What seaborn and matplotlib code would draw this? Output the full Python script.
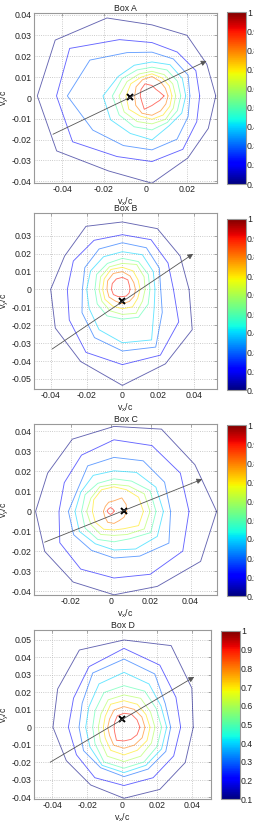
import matplotlib
matplotlib.use("Agg")
import matplotlib.pyplot as plt
import numpy as np
import pandas as pd
import seaborn as sns
from matplotlib.cm import ScalarMappable
from matplotlib.colors import Normalize


LEVELS = [0.1, 0.2, 0.3, 0.4, 0.5, 0.6, 0.7, 0.8, 0.9]
ANGLES_DEG = [0, 30, 60, 90, 120, 150, 180, 210, 240, 270, 300, 330]
CBAR_TICKS = [0.1, 0.2, 0.3, 0.4, 0.5, 0.6, 0.7, 0.8, 0.9, 1.0]
JET = matplotlib.colormaps["jet"]
FS = 6.3
FIG_W, FIG_H = 254, 822

# Box A
A_CENTER = (0.0030, 0.0010)
A_PEAK = (0.0030, 0.0010)
A_RADII = [
    [0.0306, 0.0304, 0.0336, 0.0341, 0.0432, 0.0536, 0.0550, 0.0528, 0.0416, 0.0419, 0.0344, 0.0312],
    [0.0229, 0.0243, 0.0243, 0.0256, 0.0312, 0.0456, 0.0458, 0.0440, 0.0336, 0.0315, 0.0296, 0.0248],
    [0.0182, 0.0200, 0.0205, 0.0210, 0.0240, 0.0344, 0.0406, 0.0328, 0.0275, 0.0259, 0.0240, 0.0200],
    [0.0162, 0.0168, 0.0173, 0.0163, 0.0170, 0.0187, 0.0235, 0.0229, 0.0208, 0.0211, 0.0165, 0.0165],
    [0.0138, 0.0141, 0.0144, 0.0138, 0.0144, 0.0166, 0.0190, 0.0182, 0.0171, 0.0163, 0.0147, 0.0141],
    [0.0114, 0.0115, 0.0118, 0.0118, 0.0122, 0.0138, 0.0158, 0.0154, 0.0142, 0.0134, 0.0130, 0.0118],
    [0.0096, 0.0096, 0.0099, 0.0106, 0.0104, 0.0117, 0.0125, 0.0128, 0.0112, 0.0112, 0.0106, 0.0099],
    [0.0077, 0.0074, 0.0080, 0.0093, 0.0090, 0.0088, 0.0083, 0.0090, 0.0096, 0.0093, 0.0083, 0.0077],
    [0.0058, 0.0040, 0.0037, 0.0050, 0.0067, 0.0061, 0.0056, 0.0056, 0.0074, 0.0046, 0.0038, 0.0043],
]
A_MARK = (-0.0077, 0.0003)
A_ARROW = ((-0.0445, -0.0174), (0.0292, 0.0178))
A_XTICKS = [-0.04, -0.02, 0, 0.02]
A_YTICKS = [-0.04, -0.03, -0.02, -0.01, 0, 0.01, 0.02, 0.03, 0.04]
A_XLIM = (-0.0536, 0.0342)
A_YLIM = (-0.0408, 0.0408)

# Box B
B_CENTER = (0.0, 0.0)
B_PEAK = (0.0, 0.0)
B_RADII = [
    [0.0372, 0.0372, 0.0391, 0.0376, 0.0406, 0.0372, 0.0400, 0.0432, 0.0465, 0.0536, 0.0480, 0.0450],
    [0.0285, 0.0294, 0.0320, 0.0305, 0.0316, 0.0316, 0.0307, 0.0342, 0.0406, 0.0420, 0.0424, 0.0363],
    [0.0214, 0.0238, 0.0268, 0.0260, 0.0260, 0.0242, 0.0223, 0.0260, 0.0311, 0.0344, 0.0372, 0.0257],
    [0.0182, 0.0199, 0.0223, 0.0210, 0.0210, 0.0205, 0.0199, 0.0214, 0.0260, 0.0298, 0.0326, 0.0205],
    [0.0154, 0.0167, 0.0179, 0.0173, 0.0167, 0.0166, 0.0153, 0.0162, 0.0171, 0.0166, 0.0180, 0.0166],
    [0.0127, 0.0140, 0.0160, 0.0145, 0.0145, 0.0140, 0.0130, 0.0132, 0.0138, 0.0140, 0.0154, 0.0130],
    [0.0099, 0.0102, 0.0119, 0.0123, 0.0128, 0.0117, 0.0110, 0.0112, 0.0108, 0.0108, 0.0113, 0.0099],
    [0.0073, 0.0074, 0.0086, 0.0099, 0.0102, 0.0095, 0.0086, 0.0086, 0.0076, 0.0080, 0.0078, 0.0076],
    [0.0043, 0.0045, 0.0061, 0.0067, 0.0067, 0.0065, 0.0061, 0.0058, 0.0047, 0.0041, 0.0043, 0.0043],
]
B_MARK = (0.0, -0.0065)
B_ARROW = ((-0.0392, -0.0333), (0.0395, 0.0198))
B_XTICKS = [-0.04, -0.02, 0, 0.02, 0.04]
B_YTICKS = [-0.05, -0.04, -0.03, -0.02, -0.01, 0, 0.01, 0.02, 0.03]
B_XLIM = (-0.0493, 0.0528)
B_YLIM = (-0.0556, 0.0426)

# Box C
C_CENTER = (0.0017, 0.0)
C_PEAK = (0.0, 0.0002)
C_RADII = [
    [0.0513, 0.0467, 0.0475, 0.0425, 0.0417, 0.0383, 0.0392, 0.0400, 0.0408, 0.0417, 0.0433, 0.0500],
    [0.0375, 0.0383, 0.0380, 0.0358, 0.0325, 0.0287, 0.0275, 0.0313, 0.0333, 0.0333, 0.0363, 0.0397],
    [0.0283, 0.0292, 0.0292, 0.0270, 0.0263, 0.0212, 0.0228, 0.0233, 0.0225, 0.0233, 0.0258, 0.0317],
    [0.0247, 0.0242, 0.0225, 0.0203, 0.0208, 0.0192, 0.0195, 0.0200, 0.0187, 0.0193, 0.0217, 0.0250],
    [0.0210, 0.0208, 0.0175, 0.0163, 0.0162, 0.0167, 0.0162, 0.0167, 0.0162, 0.0152, 0.0158, 0.0212],
    [0.0180, 0.0175, 0.0147, 0.0135, 0.0142, 0.0133, 0.0137, 0.0133, 0.0133, 0.0120, 0.0133, 0.0175],
    [0.0147, 0.0142, 0.0125, 0.0123, 0.0125, 0.0117, 0.0108, 0.0108, 0.0103, 0.0093, 0.0100, 0.0142],
    [0.0063, 0.0070, 0.0078, 0.0053, 0.0053, 0.0050, 0.0053, 0.0053, 0.0063, 0.0060, 0.0053, 0.0058],
    [0.0018, 0.0015, 0.0015, 0.0017, 0.0015, 0.0015, 0.0018, 0.0015, 0.0015, 0.0017, 0.0015, 0.0015],
]
C_MARK = (0.0067, 0.0003)
C_ARROW = ((-0.0330, -0.0154), (0.0458, 0.0161))
C_XTICKS = [-0.02, 0, 0.02, 0.04]
C_YTICKS = [-0.04, -0.03, -0.02, -0.01, 0, 0.01, 0.02, 0.03, 0.04]
C_XLIM = (-0.0383, 0.0532)
C_YLIM = (-0.0418, 0.0437)

# Box D
D_CENTER = (0.00095, 0.0)
D_PEAK = (0.00095, 0.0)
D_RADII = [
    [0.0396, 0.0448, 0.0539, 0.0499, 0.0510, 0.0438, 0.0406, 0.0381, 0.0381, 0.0406, 0.0410, 0.0404],
    [0.0324, 0.0343, 0.0410, 0.0451, 0.0400, 0.0333, 0.0318, 0.0314, 0.0333, 0.0333, 0.0333, 0.0328],
    [0.0267, 0.0272, 0.0352, 0.0390, 0.0358, 0.0276, 0.0257, 0.0267, 0.0267, 0.0282, 0.0276, 0.0276],
    [0.0244, 0.0244, 0.0286, 0.0314, 0.0286, 0.0232, 0.0219, 0.0225, 0.0251, 0.0259, 0.0251, 0.0248],
    [0.0215, 0.0213, 0.0238, 0.0238, 0.0229, 0.0191, 0.0179, 0.0191, 0.0229, 0.0234, 0.0229, 0.0219],
    [0.0177, 0.0175, 0.0191, 0.0185, 0.0181, 0.0152, 0.0147, 0.0156, 0.0191, 0.0196, 0.0191, 0.0181],
    [0.0149, 0.0145, 0.0152, 0.0152, 0.0152, 0.0124, 0.0118, 0.0124, 0.0152, 0.0158, 0.0152, 0.0152],
    [0.0120, 0.0118, 0.0118, 0.0118, 0.0114, 0.0095, 0.0093, 0.0095, 0.0118, 0.0120, 0.0118, 0.0120],
    [0.0091, 0.0086, 0.0086, 0.0080, 0.0076, 0.0061, 0.0057, 0.0061, 0.0086, 0.0078, 0.0080, 0.0086],
]
D_MARK = (-0.0004, 0.0046)
D_ARROW = ((-0.0413, -0.0200), (0.0411, 0.0288))
D_XTICKS = [-0.04, -0.02, 0, 0.02, 0.04]
D_YTICKS = [-0.04, -0.03, -0.02, -0.01, 0, 0.01, 0.02, 0.03, 0.04, 0.05]
D_XLIM = (-0.0505, 0.0507)
D_YLIM = (-0.0410, 0.0556)


def fmt(v):
    s = f"{v:g}"
    return "0" if s in ("-0", "0") else s


def px_rect(left, top, right, bottom):
    # pixel box (from top-left) -> figure fraction rect
    return [left / FIG_W, 1 - bottom / FIG_H, (right - left) / FIG_W, (bottom - top) / FIG_H]


def contour_frame(center, peak, radii):
    ang = np.deg2rad(ANGLES_DEG + [ANGLES_DEG[0]])
    rows = []
    for i, (lev, r) in enumerate(zip(LEVELS, radii)):
        cx, cy = peak if i == len(LEVELS) - 1 else center
        r = np.array(r + [r[0]])
        for k, (a, rr) in enumerate(zip(ang, r)):
            rows.append({"level": lev, "order": k,
                         "x": cx + rr * np.cos(a), "y": cy + rr * np.sin(a)})
    return pd.DataFrame(rows)


def plot_box(fig, ax_box, cax_box, title, center, peak, radii, mark, arrow,
             xticks, yticks, xlim, ylim):
    ax = fig.add_axes(px_rect(*ax_box))
    w_px = ax_box[2] - ax_box[0]
    h_px = ax_box[3] - ax_box[1]
    df = contour_frame(center, peak, radii)
    sns.lineplot(data=df, x="x", y="y", hue="level", units="level",
                 estimator=None, sort=False, palette=JET,
                 hue_norm=(0.1, 1.0), legend=False, linewidth=0.65,
                 alpha=0.6, ax=ax)

    ax.annotate("", xy=arrow[1], xytext=arrow[0],
                arrowprops=dict(arrowstyle="-|>", color="#555555", lw=0.6,
                                mutation_scale=8, shrinkA=0, shrinkB=0))
    ax.plot(mark[0], mark[1], marker="x", color="black", ms=4.5, mew=1.4)

    ax.set_xlim(xlim)
    ax.set_ylim(ylim)
    ax.set_xticks(xticks)
    ax.set_xticklabels([fmt(v) for v in xticks])
    ax.set_yticks(yticks)
    ax.set_yticklabels([fmt(v) for v in yticks])
    ax.grid(True, ls=":", color="#bbbbbb", lw=0.6)
    ax.tick_params(direction="in", length=2.5, width=0.5, top=True, right=True,
                   labelsize=FS, pad=1.5, color="#888888", labelcolor="#222222")
    for sp in ax.spines.values():
        sp.set_color("#999999")
        sp.set_linewidth(0.8)
    ax.set_xlabel(r"v$_x$/c", fontsize=FS, color="#222222")
    ax.set_ylabel(r"v$_y$/c", fontsize=FS, color="#222222")
    ax.xaxis.set_label_coords(0.5, -12.0 / h_px)
    ax.yaxis.set_label_coords(-23.0 / w_px, 0.5)
    ax.set_title(title, fontsize=FS, pad=1.5, color="#222222")

    cax = fig.add_axes(px_rect(*cax_box))
    sm = ScalarMappable(norm=Normalize(0.1, 1.0), cmap=JET)
    cb = fig.colorbar(sm, cax=cax, ticks=CBAR_TICKS)
    cb.ax.set_yticklabels([fmt(t) for t in CBAR_TICKS])
    cb.ax.tick_params(direction="in", labelsize=FS, length=1.5, width=0.5,
                      pad=0.8, color="#888888", labelcolor="#222222")
    cb.outline.set_edgecolor("#999999")
    cb.outline.set_linewidth(0.8)
    return ax


def main():
    sns.set_style("white")
    plt.rcParams["font.family"] = ["Liberation Sans", "DejaVu Sans"]
    plt.rcParams["mathtext.default"] = "regular"

    fig = plt.figure(figsize=(FIG_W / 100, FIG_H / 100), dpi=100)

    plot_box(fig, (34, 13, 217, 183), (227, 12, 246, 184),
             "Box A", A_CENTER, A_PEAK, A_RADII, A_MARK, A_ARROW,
             A_XTICKS, A_YTICKS, A_XLIM, A_YLIM)
    plot_box(fig, (34, 213, 217, 389), (227, 219, 246, 390),
             "Box B", B_CENTER, B_PEAK, B_RADII, B_MARK, B_ARROW,
             B_XTICKS, B_YTICKS, B_XLIM, B_YLIM)
    plot_box(fig, (34, 424, 217, 595), (227, 425, 246, 596),
             "Box C", C_CENTER, C_PEAK, C_RADII, C_MARK, C_ARROW,
             C_XTICKS, C_YTICKS, C_XLIM, C_YLIM)
    plot_box(fig, (34, 630, 211, 799), (221, 631, 240, 799),
             "Box D", D_CENTER, D_PEAK, D_RADII, D_MARK, D_ARROW,
             D_XTICKS, D_YTICKS, D_XLIM, D_YLIM)

    fig.savefig("out.png", dpi=100)


if __name__ == "__main__":
    main()
